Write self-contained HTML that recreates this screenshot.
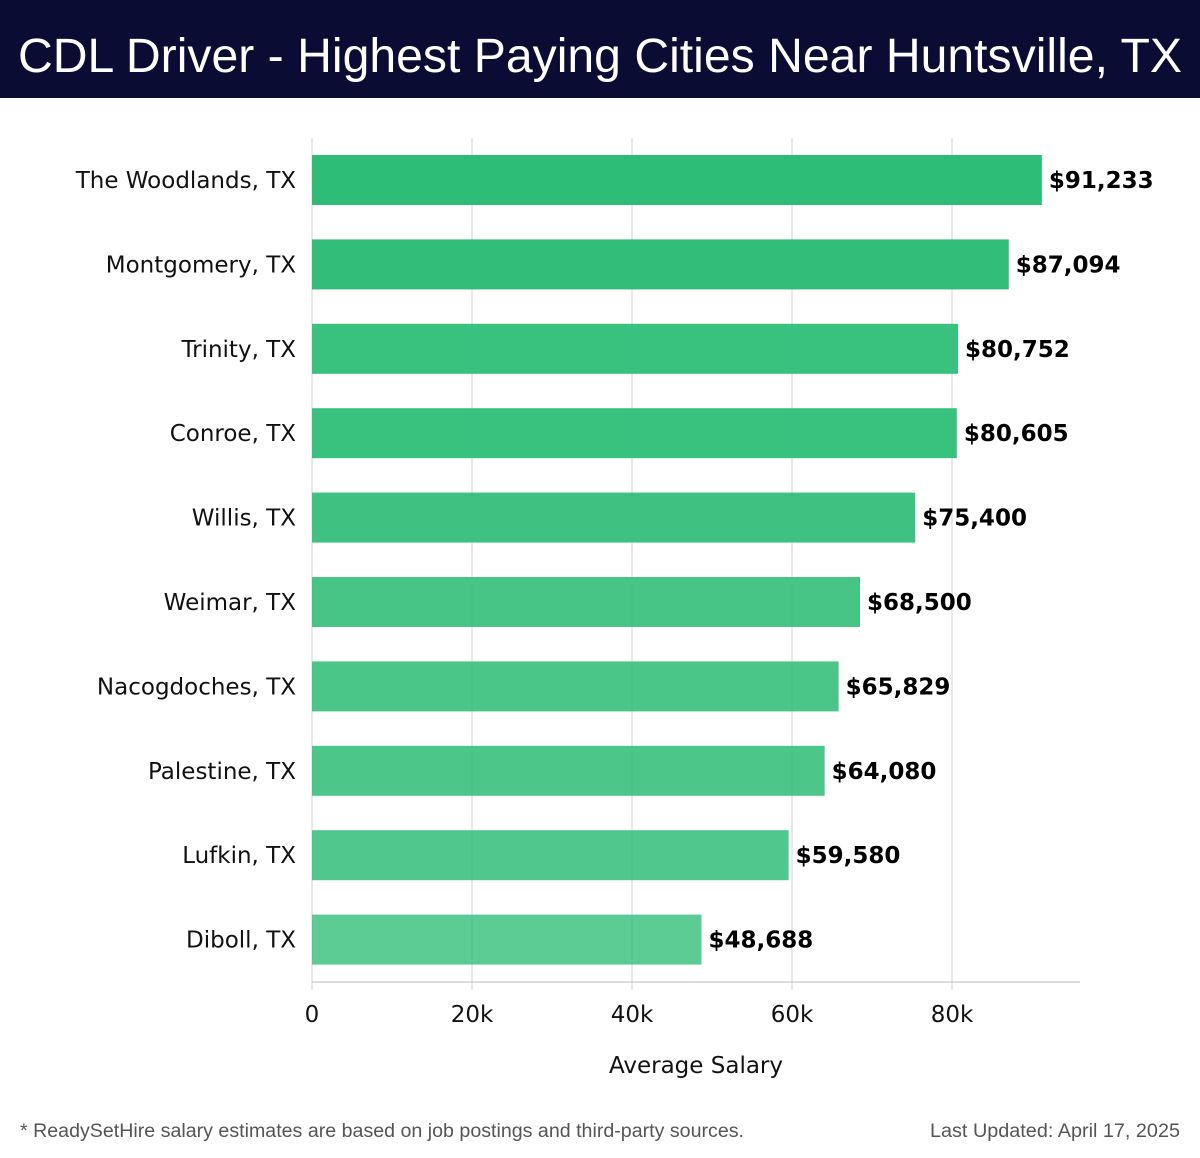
<!DOCTYPE html>
<html><head><meta charset="utf-8"><style>
body{margin:0;background:#fff}
svg{display:block}
</style></head><body>
<svg id="chart" width="1200" height="1158" xmlns="http://www.w3.org/2000/svg" font-family="DejaVu Sans, Liberation Sans, sans-serif">
<rect x="0" y="0" width="1200" height="98" fill="#0b0c33"/>
<text x="18" y="72" font-size="48" fill="#fff" font-family="Liberation Sans, sans-serif" textLength="1164" lengthAdjust="spacingAndGlyphs">CDL Driver - Highest Paying Cities Near Huntsville, TX</text>
<g id="grid"></g>
<g id="bars"></g>
<g id="axis"></g>
<text x="696" y="1073" font-size="23" text-anchor="middle" fill="#111">Average Salary</text>
<text x="20" y="1137" font-size="19" fill="#555" font-family="Liberation Sans, sans-serif" textLength="724" lengthAdjust="spacingAndGlyphs">* ReadySetHire salary estimates are based on job postings and third-party sources.</text>
<text x="930" y="1137" font-size="19" fill="#555" font-family="Liberation Sans, sans-serif" textLength="250" lengthAdjust="spacingAndGlyphs">Last Updated: April 17, 2025</text>
</svg>
<script>
const categories=["The Woodlands, TX","Montgomery, TX","Trinity, TX","Conroe, TX","Willis, TX","Weimar, TX","Nacogdoches, TX","Palestine, TX","Lufkin, TX","Diboll, TX"];
const values=[91233,87094,80752,80605,75400,68500,65829,64080,59580,48688];
const ticks=[0,20000,40000,60000,80000];
const tickLabels=["0","20k","40k","60k","80k"];
(function(){
const NS="http://www.w3.org/2000/svg";
const x0=312,pxPer=8/1000,plotTop=138,plotBottom=982,step=84.4,bh=50;
const xs=v=>x0+v*pxPer;
const yc=i=>plotTop+42+i*step;
function mk(t,a,p){const e=document.createElementNS(NS,t);for(const k in a)e.setAttribute(k,a[k]);p.appendChild(e);return e;}
const grid=document.getElementById('grid'),bars=document.getElementById('bars'),axis=document.getElementById('axis');
ticks.forEach((t,i)=>{
 const l=mk('line',{x1:xs(t),x2:xs(t),y1:plotTop,y2:plotBottom+8,stroke:'#e2e2e2','stroke-width':1.5},grid);
 
 
 const tx=mk('text',{x:xs(t),y:1022,'font-size':23,'text-anchor':'middle',fill:'#111'},axis);
 tx.textContent=tickLabels[i];
 
 
});
const al=mk('line',{x1:x0,x2:1080,y1:plotBottom,y2:plotBottom,stroke:'#d0d0d0','stroke-width':1.5},axis);


const vmax=Math.max(...values),vmin=Math.min(...values);
categories.forEach((c,i)=>{
 const v=values[i],y=yc(i);
 const op=0.78+0.22*(v-vmin)/(vmax-vmin);
 const r=mk('rect',{x:x0,y:y-bh/2,width:xs(v)-x0,height:bh,fill:'#2ebd76','fill-opacity':op},bars);
 
 
 const lb=mk('text',{x:296,y:y+8,'font-size':23,'text-anchor':'end',fill:'#111'},bars);
 lb.textContent=c;
 
 
 const vl=mk('text',{x:xs(v)+7,y:y+8,'font-size':23,'font-weight':'bold',fill:'#000'},bars);
 vl.textContent='$'+v.toLocaleString('en-US');
 
 
});
})();
</script>
</body></html>
